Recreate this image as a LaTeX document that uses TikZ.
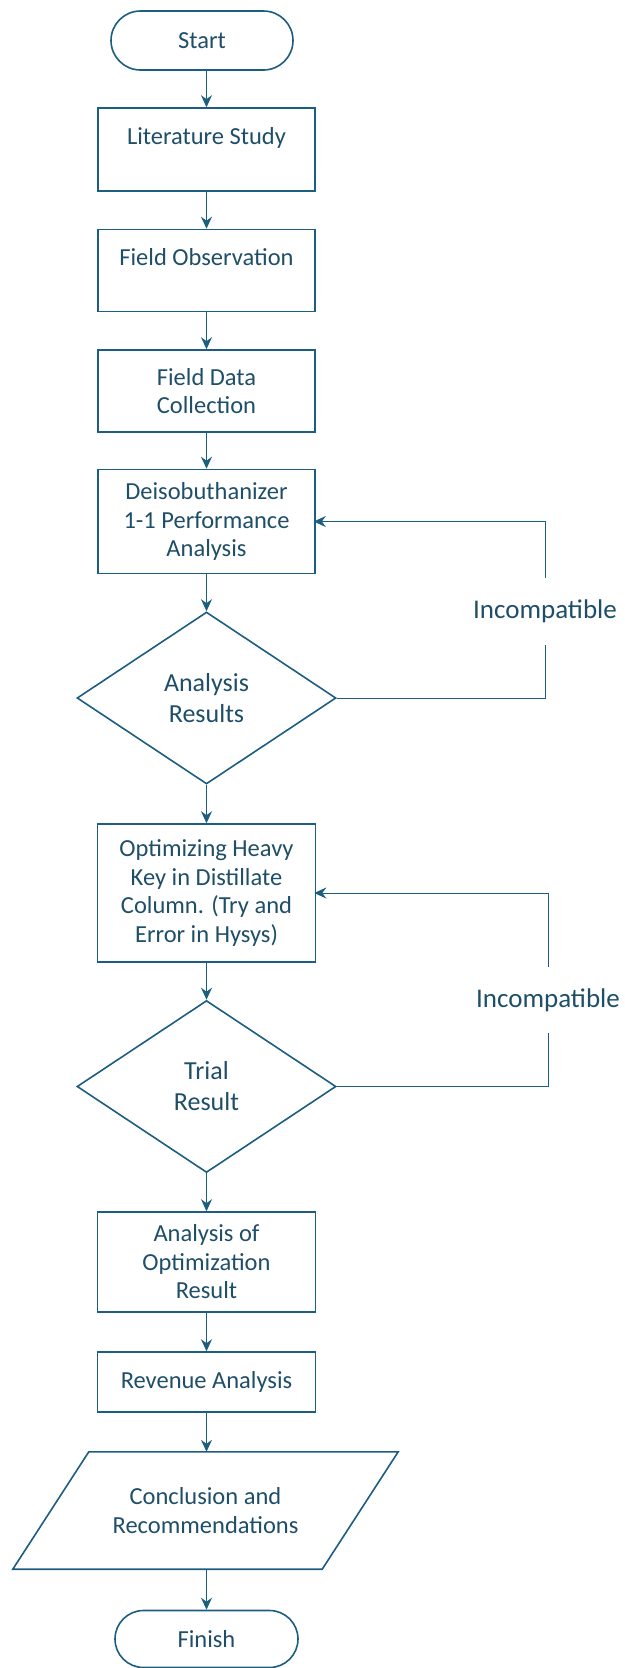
\documentclass[tikz,border=0pt]{standalone}
\usepackage{fontspec}
\setmainfont{Carlito}
\usetikzlibrary{shapes.geometric,shapes.misc,arrows.meta}
\definecolor{ln}{HTML}{1B5E80}
\definecolor{tx}{HTML}{1E4E68}
\begin{document}
\begin{tikzpicture}[x=1pt,y=-1pt,
  every node/.style={text=tx,font=\fontsize{24.5}{28.5}\selectfont},
  box/.style={draw=ln,line width=1.6pt,rectangle,align=center,inner sep=0pt,minimum width=217pt},
  term/.style={draw=ln,line width=1.6pt,rounded rectangle,inner sep=0pt,minimum width=182pt,minimum height=59pt},
  dec/.style={draw=ln,line width=1.6pt,diamond,aspect=1.5,inner sep=0pt,align=center,minimum width=259pt,minimum height=172pt,font=\fontsize{26}{31}\selectfont},
  arr/.style={draw=ln,line width=1pt,-{Stealth[length=12pt,width=11pt,inset=4pt]}},
  loopline/.style={draw=ln,line width=0.9pt},
  lab/.style={font=\fontsize{27}{32}\selectfont,inner sep=0pt}
]
\path[use as bounding box] (0,0) rectangle (624,1668);

\node[term] (start) at (202,40.5) {Start};
\node[box,minimum height=83pt] (lit) at (206.5,149.5) {Literature Study\\[-10pt]\strut};
\node[box,minimum height=82pt] (obs) at (206.5,270.5) {Field Observation\\[-10pt]\strut};
\node[box,minimum height=82pt] (data) at (206.5,391) {Field Data\\Collection};
\node[box,minimum height=104pt] (deiso) at (206.5,521.5) {Deisobuthanizer\\1-1 Performance\\Analysis};
\node[dec] (ares) at (206.5,698) {Analysis\\Results};
\node[box,minimum width=218pt,minimum height=138pt] (opt) at (206.5,893) {Optimizing Heavy\\Key in Distillate\\Column. (Try and\\Error in Hysys)};
\node[dec] (trial) at (206.5,1086.5) {Trial\\Result};
\node[box,minimum width=218pt,minimum height=100pt] (aor) at (206.5,1262) {Analysis of\\Optimization\\Result};
\node[box,minimum width=218pt,minimum height=60pt] (rev) at (206.5,1382) {Revenue Analysis};
\node[minimum width=385pt,minimum height=117pt,inner sep=0pt,align=center] (concl) at (205.5,1510.5) {Conclusion and\\Recommendations};
\draw[ln,line width=1.6pt] ([xshift=76pt]concl.north west) -- (concl.north east) -- ([xshift=-76pt]concl.south east) -- (concl.south west) -- cycle;
\node[term,minimum width=183pt,minimum height=57pt] (finish) at (206.5,1639) {Finish};

\draw[arr] (start.south -| lit.north) -- (lit.north);
\draw[arr] (lit.south) -- (obs.north);
\draw[arr] (obs.south) -- (data.north);
\draw[arr] (data.south) -- (deiso.north);
\draw[arr] (deiso.south) -- (ares.north);
\draw[arr] (ares.south) -- (opt.north);
\draw[arr] (opt.south) -- (trial.north);
\draw[arr] (trial.south) -- (aor.north);
\draw[arr] (aor.south) -- (rev.north);
\draw[arr] (rev.south) -- (rev.south |- concl.north);
\draw[arr] (concl.south -| finish.north) -- (finish.north);

\node[lab,minimum height=67pt] (inc1) at (545,611.5) {Incompatible};
\draw[loopline] (ares.east) -| (inc1.south);
\draw[arr,line width=0.9pt,shorten >=-2pt] (inc1.north) |- (deiso.east);

\node[lab,minimum height=66pt] (inc2) at (548,1000) {Incompatible};
\draw[loopline] (trial.east) -| (inc2.south);
\draw[arr,line width=0.9pt,shorten >=-2pt] (inc2.north) |- (opt.east);
\end{tikzpicture}
\end{document}
